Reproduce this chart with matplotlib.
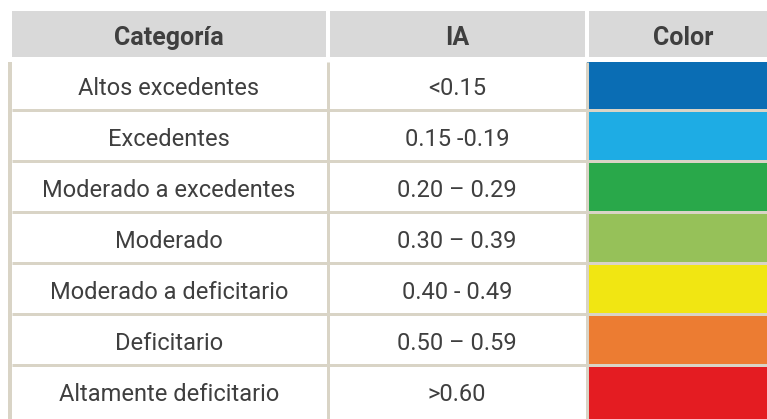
import matplotlib.pyplot as plt
from matplotlib.patches import Rectangle

# datos de la tabla
encabezados = ['Categoría', 'IA', 'Color']
categorias = ['Altos excedentes', 'Excedentes', 'Moderado a excedentes', 'Moderado',
              'Moderado a deficitario', 'Deficitario', 'Altamente deficitario']
rangos_ia = ['<0.15', '0.15 -0.19', '0.20 – 0.29', '0.30 – 0.39',
             '0.40 - 0.49', '0.50 – 0.59', '>0.60']
colores = ['#0a6db4', '#1eace4', '#29a84a', '#96c159', '#f1e612', '#ec7c32', '#e41c22']

# geometria (pixeles)
W, H = 767, 419
col_x = [12, 327.5, 587, 767]
texto_x = [169, 457, 683]
y_cab = (11, 57)
y_cuerpo = 62
paso = 51
linea = '#d9d4c6'
gris = '#d9d9d9'
txt = '#3f3f3f'

plt.rcParams['font.family'] = ['Roboto', 'DejaVu Sans']

fig = plt.figure(figsize=(W / 100, H / 100), dpi=100)
ax = fig.add_axes([0, 0, 1, 1])
ax.set_xlim(0, W)
ax.set_ylim(H, 0)
ax.axis('off')

# encabezado
for i, nombre in enumerate(encabezados):
    x0 = col_x[i] + (0 if i == 0 else 2)
    x1 = col_x[i + 1] - (2 if i < 2 else 0)
    ax.add_patch(Rectangle((x0, y_cab[0]), x1 - x0, y_cab[1] - y_cab[0],
                           facecolor=gris, edgecolor='none'))
    ax.text(texto_x[i], 45, nombre, ha='center', va='baseline',
            fontsize=18, fontweight='bold', color=txt)

# filas
n = len(categorias)
for k, (cat, ia, c) in enumerate(zip(categorias, rangos_ia, colores)):
    top = y_cuerpo if k == 0 else 110 + paso * (k - 1)
    bot = H if k == n - 1 else 110 + paso * k
    ax.add_patch(Rectangle((col_x[2], top), col_x[3] - col_x[2], bot - top,
                           facecolor=c, edgecolor='none'))
    base = 95 + paso * k
    ax.text(texto_x[0], base, cat, ha='center', va='baseline', fontsize=17, color=txt)
    ax.text(texto_x[1], base, ia, ha='center', va='baseline', fontsize=17, color=txt)

# lineas de la tabla
lw = 3 * 72 / 100
for k in range(n - 1):
    y = 110 + paso * k
    ax.plot([col_x[0], W], [y, y], color=linea, lw=lw, solid_capstyle='butt')
ax.plot([10, 10], [y_cuerpo, H], color=linea, lw=4 * 72 / 100, solid_capstyle='butt')
for x in col_x[1:3]:
    ax.plot([x, x], [y_cuerpo, H], color=linea, lw=lw, solid_capstyle='butt')

fig.savefig('out.png', dpi=100, facecolor='white')
